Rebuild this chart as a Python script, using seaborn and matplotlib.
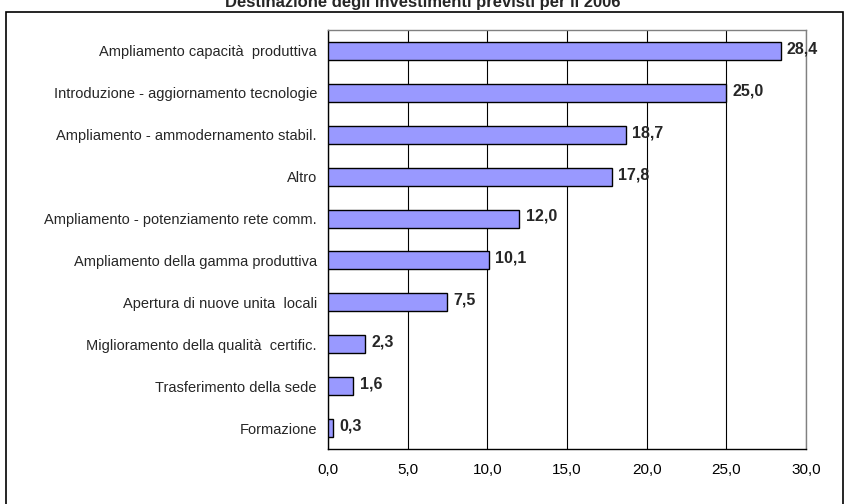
import matplotlib
matplotlib.use("Agg")
import matplotlib.pyplot as plt
import seaborn as sns
import pandas as pd
from matplotlib.patches import Rectangle

# Data
categories = [
    "Ampliamento capacità  produttiva",
    "Introduzione - aggiornamento tecnologie",
    "Ampliamento - ammodernamento stabil.",
    "Altro",
    "Ampliamento - potenziamento rete comm.",
    "Ampliamento della gamma produttiva",
    "Apertura di nuove unita  locali",
    "Miglioramento della qualità  certific.",
    "Trasferimento della sede",
    "Formazione",
]
values = [28.4, 25.0, 18.7, 17.8, 12.0, 10.1, 7.5, 2.3, 1.6, 0.3]
x_ticks = [0, 5, 10, 15, 20, 25, 30]
title = "Destinazione degli investimenti previsti per il 2006"

df = pd.DataFrame({"Categoria": categories, "Valore": values})

sns.set_style("white")
plt.rcParams["font.family"] = ["Liberation Sans", "DejaVu Sans"]

fig = plt.figure(figsize=(8.45, 5.04), dpi=100)
ax = fig.add_axes([328 / 845, 1 - 449 / 504, (806 - 328) / 845, (449 - 30) / 504])

# outer chart frame
fig.patches.append(Rectangle((6 / 845, -0.05), (843 - 6) / 845, 1.05 - 12 / 504,
                             transform=fig.transFigure, fill=False,
                             edgecolor="black", linewidth=1.2))
fig.text(0.5, 1 - 2 / 504, title, ha="center", va="center",
         fontsize=12, fontweight="bold")

sns.barplot(data=df, x="Valore", y="Categoria", orient="h", ax=ax,
            color="#9999FF", edgecolor="black", linewidth=1, width=0.43,
            saturation=1, zorder=3)

ax.set_xlim(0, 30)
ax.set_ylim(9.5, -0.5)
ax.set_xticks(x_ticks)
ax.set_xticklabels([f"{t:.1f}".replace(".", ",") for t in x_ticks], fontsize=11)
ax.xaxis.grid(True, color="black", linewidth=0.8, zorder=0)
ax.set_xlabel("")
ax.set_ylabel("")
ax.tick_params(axis="y", length=0, labelsize=10.5, pad=8)
ax.tick_params(axis="x", length=4, direction="out", pad=6, colors="black")
ax.set_yticks([i - 0.5 for i in range(11)], minor=True)
ax.tick_params(axis="y", which="minor", length=4, direction="out")

for side in ["left", "bottom"]:
    ax.spines[side].set_color("black")
    ax.spines[side].set_linewidth(1)
for side in ["top", "right"]:
    ax.spines[side].set_color("#808080")
    ax.spines[side].set_linewidth(1)

for i, v in enumerate(values):
    ax.text(v + 0.4, i - 0.05, f"{v:.1f}".replace(".", ","), va="center",
            ha="left", fontsize=11.5, fontweight="bold", zorder=4)

fig.savefig("out.png", dpi=100)
